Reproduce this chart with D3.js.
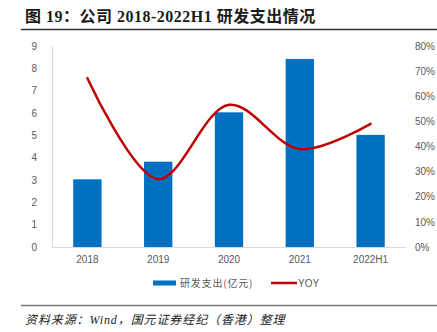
<!DOCTYPE html>
<html>
  <head>
    <meta charset="utf-8">
    <title>研发支出情况</title>
    <script src="https://cdn.jsdelivr.net/npm/d3@7/dist/d3.min.js"></script>
    <style>
      body { margin: 0; background: #fff; }
      svg { display: block; }
      .tick text { fill: #595959; font-family: "Liberation Sans", Arial, sans-serif; font-size: 10px; }
    </style>
  </head>
  <body>
    <svg id="chart" width="437" height="332"></svg>

    <script>
      // data
      years = ["2018", "2019", "2020", "2021", "2022H1"];
      spend = [3.03, 3.82, 6.03, 8.42, 5.02];      // 亿元
      yoy = [0.672, 0.27, 0.566, 0.39, 0.49];
      leftTicks = [0, 1, 2, 3, 4, 5, 6, 7, 8, 9];
      rightTicks = [0, .1, .2, .3, .4, .5, .6, .7, .8];

      svg = d3.select("#chart");

      // plot frame
      plotLeft = 52;
      plotRight = 406;
      plotTop = 46;
      plotBottom = 247;

      x = d3.scaleBand()
        .domain(years)
        .range([plotLeft, plotRight])
        .paddingInner(.6)
        .paddingOuter(.3);

      yLeft = d3.scaleLinear()
        .domain([0, 9])
        .range([plotBottom, plotTop]);

      yRight = d3.scaleLinear()
        .domain([0, .8])
        .range([plotBottom, plotTop]);

      // title + rules
      svg.append("text")
        .attr("x", 25)
        .attr("y", 22)
        .style("font-family", "'Liberation Serif', 'Noto Sans CJK SC', serif")
        .style("font-weight", "bold")
        .style("font-size", "16px")
        .style("letter-spacing", "0.5px")
        .style("fill", "#1a1a1a")
        .text("图 19：公司 2018-2022H1 研发支出情况");

      svg.append("line")
        .attr("x1", 21).attr("x2", 437)
        .attr("y1", 29.5).attr("y2", 29.5)
        .style("stroke", "#333").style("stroke-width", 1.3);

      svg.append("line")
        .attr("x1", 21).attr("x2", 437)
        .attr("y1", 305.5).attr("y2", 305.5)
        .style("stroke", "#777").style("stroke-width", 1.3);

      svg.append("text")
        .attr("x", 25)
        .attr("y", 324)
        .style("font-family", "'Liberation Serif', 'Noto Sans CJK SC', serif")
        .style("font-style", "italic")
        .style("font-size", "12px")
        .style("letter-spacing", "0.9px")
        .style("fill", "#222")
        .text("资料来源：Wind，国元证券经纪（香港）整理");

      // axes
      axisLeft = svg.append("g")
        .attr("transform", "translate(" + (plotLeft - 15) + ",0)")
        .call(d3.axisLeft(yLeft).tickValues(leftTicks).tickSize(0).tickPadding(0));
      axisLeft.select(".domain").remove();

      axisRight = svg.append("g")
        .attr("transform", "translate(415,0)")
        .call(d3.axisRight(yRight).tickValues(rightTicks).tickSize(0).tickPadding(0).tickFormat(d3.format(".0%")));
      axisRight.select(".domain").remove();

      axisBottom = svg.append("g")
        .attr("transform", "translate(0," + plotBottom + ")")
        .call(d3.axisBottom(x).tickSize(0).tickPadding(9));
      axisBottom.select(".domain").remove();

      svg.append("line")
        .attr("x1", plotLeft + .5).attr("x2", plotLeft + .5)
        .attr("y1", plotTop).attr("y2", plotBottom)
        .style("stroke", "#d9d9d9");

      svg.append("line")
        .attr("x1", plotLeft).attr("x2", plotRight)
        .attr("y1", plotBottom + .5).attr("y2", plotBottom + .5)
        .style("stroke", "#d9d9d9");

      // bars
      svg.selectAll(".bar")
        .data(years)
        .enter().append("rect")
          .classed("bar", true)
          .attr("x", function(d) { return x(d); })
          .attr("width", x.bandwidth())
          .attr("y", function(d, i) { return yLeft(spend[i]); })
          .attr("height", function(d, i) { return plotBottom - yLeft(spend[i]); })
          .style("fill", "#0070C0");

      // yoy line
      line = d3.line()
        .x(function(d, i) { return x(years[i]) + x.bandwidth() / 2; })
        .y(function(d) { return yRight(d); })
        .curve(d3.curveCatmullRom.alpha(.5));

      svg.append("path")
        .datum(yoy)
        .attr("d", line)
        .style("fill", "none")
        .style("stroke", "#C00000")
        .style("stroke-width", 2.5)
        .style("stroke-linecap", "round");

      // legend
      legend = svg.append("g")
        .attr("transform", "translate(0,283)");

      legend.append("rect")
        .attr("x", 153).attr("y", -2.5)
        .attr("width", 23).attr("height", 5)
        .style("fill", "#0070C0");

      legend.append("text")
        .attr("x", 180).attr("y", 4)
        .style("font-family", "'Noto Sans CJK SC', sans-serif")
        .style("font-size", "10px")
        .style("letter-spacing", "0.8px")
        .style("fill", "#595959")
        .text("研发支出(亿元)");

      legend.append("line")
        .attr("x1", 271).attr("x2", 297)
        .style("stroke", "#C00000").style("stroke-width", 2.5);

      legend.append("text")
        .attr("x", 298).attr("y", 4)
        .style("font-family", "'Liberation Sans', Arial, sans-serif")
        .style("font-size", "10px")
        .style("fill", "#595959")
        .text("YOY");
    </script>
  </body>
</html>
